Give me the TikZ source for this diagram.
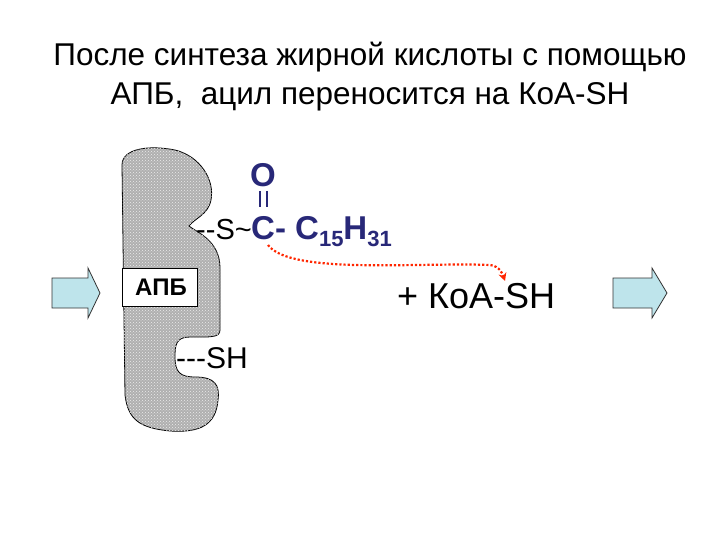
\documentclass[tikz,border=0pt]{standalone}
\usepackage{fontspec}
\setmainfont{Liberation Sans}
\usetikzlibrary{patterns,arrows.meta}
\definecolor{navy}{RGB}{40,40,120}
\definecolor{arrowfill}{RGB}{190,228,235}
\newcommand{\lowsub}[1]{\raisebox{-7pt}{\fontsize{22}{24}\selectfont #1}}
\begin{document}
\begin{tikzpicture}[x=1pt,y=-1pt,
  bigarrow/.style={draw=black!80,line width=0.8pt,fill=arrowfill},
  chem/.style={font=\fontsize{33}{36}\selectfont\bfseries,text=navy,inner sep=0pt},
  plain/.style={font=\fontsize{30}{32}\selectfont,inner sep=0pt}]
\useasboundingbox (0,0) rectangle (720,540);
% protein
\def\protein{(122,165) .. controls (122,148) and (150,145) .. (175,150)
 .. controls (200,156) and (215,180) .. (211,200) .. controls (208,215) and (195,218) .. (189,226)
 .. controls (196,232) and (220,240) .. (220,268) -- (220,330) .. controls (220,338) and (210,337) .. (190,337)
 .. controls (176,337) and (175,345) .. (175,357) .. controls (175,372) and (180,377) .. (195,377)
 .. controls (215,377) and (220,385) .. (218,400) .. controls (216,425) and (200,433) .. (170,431)
 .. controls (140,428) and (128,420) .. (125,395) -- (122,165) -- cycle}
\path[fill=gray!62,draw=black,line width=0.8pt] \protein;
\path[pattern=crosshatch dots,pattern color=white!85!gray] \protein;
\node[draw=black,fill=white,minimum width=75pt,minimum height=38pt,anchor=north west,inner sep=0pt] (apb) at (122,268) {};
\node[font=\fontsize{24}{26}\selectfont\bfseries] (apbt) at (161,287) {АПБ};
% arrows
\draw[bigarrow] (52,278) -- (88,278) -- (88,268) -- (100,293) -- (88,318) -- (88,308) -- (52,308) -- cycle;
\draw[bigarrow] (613,278) -- (652,278) -- (652,268) -- (667,293) -- (652,318) -- (652,308) -- (613,308) -- cycle;
% title
\node[font=\fontsize{31.5}{39}\selectfont,align=center] (title) at (370,77) {После синтеза жирной кислоты с помощью\\АПБ,\ \ ацил переносится на КоА-SH};
% chemistry
\node[chem,anchor=base] (o) at (263,187) {O};
\draw[navy,line width=2pt] (259.5,191) -- (259.5,207) (266.5,191) -- (266.5,207);
\node[plain,font=\fontsize{29}{30}\selectfont,anchor=base east] (s) at (252,240) {-{}-S\textasciitilde};
\node[chem,anchor=base west] (c) at (251,240) {C- C\lowsub{15}H\lowsub{31}};
\coordinate (cb) at (268,245);
\node[font=\fontsize{36}{38}\selectfont,anchor=base west,inner sep=0pt] (koa) at (397,308) {+ КоА-SH};
\coordinate (kt) at (505,281);
\draw[red!70!orange,line width=2.2pt,dotted,-{Stealth[length=8pt,width=8pt]}] (cb) .. controls (290,275) and (420,262) .. (490,265) .. controls (500,266) and (503,275) .. (kt);
\node[plain,anchor=base west] (sh) at (176,368) {-{}-{}-SH};
\end{tikzpicture}
\end{document}
